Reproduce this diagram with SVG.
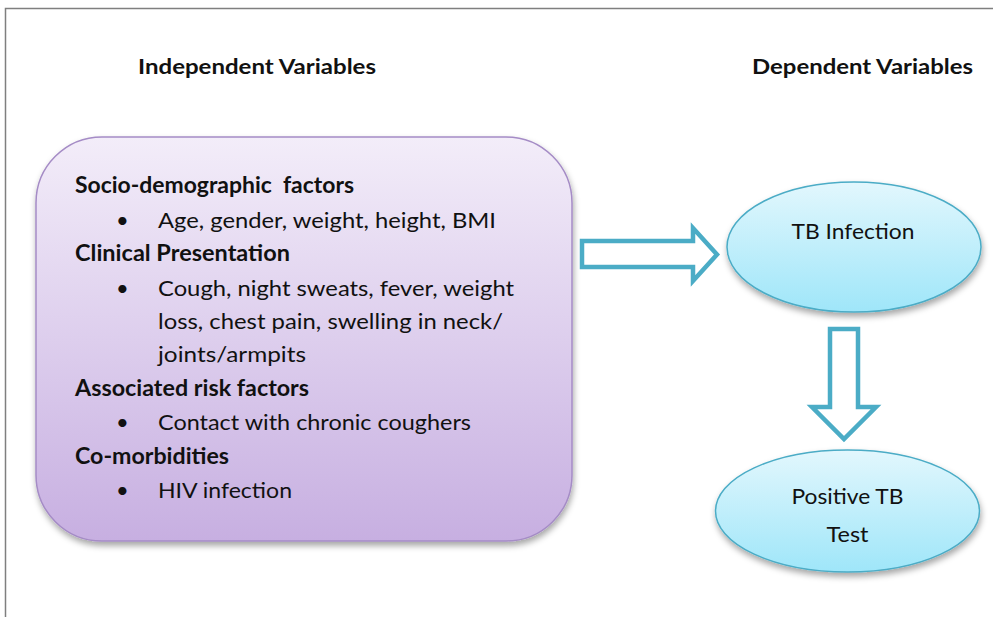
<svg xmlns="http://www.w3.org/2000/svg" width="993" height="617" viewBox="0 0 993 617">
<defs>
<linearGradient id="gBox" x1="0" y1="0" x2="0" y2="1">
<stop offset="0" stop-color="#f3edf9"/>
<stop offset="1" stop-color="#c7afe1"/>
</linearGradient>
<linearGradient id="gEll" x1="0" y1="0" x2="0" y2="1">
<stop offset="0" stop-color="#e2f7fd"/>
<stop offset="1" stop-color="#9fe6f9"/>
</linearGradient>
<filter id="sh" x="-10%" y="-10%" width="125%" height="130%">
<feDropShadow dx="1" dy="4" stdDeviation="3" flood-color="#000" flood-opacity="0.35"/>
</filter>
<style>
text{font-family:Lato,"Open Sans","Liberation Sans",sans-serif;fill:#111;}
.h{font-size:20px;font-weight:bold;}
.b{font-size:22px;font-weight:bold;}
.t{font-size:22px;}
.e{font-size:22px;text-anchor:middle;}
.arr{fill:#fff;stroke:#4bacc6;stroke-width:4.5;stroke-linejoin:miter;}
.ell{fill:url(#gEll);stroke:#4bacc6;stroke-width:1.5;filter:url(#sh);}
</style>
</defs>
<rect width="993" height="617" fill="#fff"/>
<path d="M5.5 617 V8.5 H993" fill="none" stroke="#7f7f7f" stroke-width="1.5"/>
<text class="h" x="138" y="74" textLength="238" lengthAdjust="spacingAndGlyphs">Independent Variables</text>
<text class="h" x="752" y="74" textLength="221" lengthAdjust="spacingAndGlyphs">Dependent Variables</text>
<g id="independent">
<rect x="36" y="137" width="536" height="404" rx="66" ry="66" fill="url(#gBox)" stroke="#a58cc6" stroke-width="1.5" filter="url(#sh)"/>
<text class="b" x="75" y="193" textLength="279" lengthAdjust="spacingAndGlyphs">Socio-demographic&#160; factors</text>
<text class="t" x="116" y="228">•</text>
<text class="t" x="158" y="228" textLength="338" lengthAdjust="spacingAndGlyphs">Age, gender, weight, height, BMI</text>
<text class="b" x="75" y="261" textLength="215" lengthAdjust="spacingAndGlyphs">Clinical Presentation</text>
<text class="t" x="116" y="296">•</text>
<text class="t" x="158" y="296" textLength="356" lengthAdjust="spacingAndGlyphs">Cough, night sweats, fever, weight</text>
<text class="t" x="158" y="329" textLength="345" lengthAdjust="spacingAndGlyphs">loss, chest pain, swelling in neck/</text>
<text class="t" x="158" y="362" textLength="148" lengthAdjust="spacingAndGlyphs">joints/armpits</text>
<text class="b" x="75" y="396" textLength="234" lengthAdjust="spacingAndGlyphs">Associated risk factors</text>
<text class="t" x="116" y="430">•</text>
<text class="t" x="158" y="430" textLength="313" lengthAdjust="spacingAndGlyphs">Contact with chronic coughers</text>
<text class="b" x="75" y="464" textLength="154" lengthAdjust="spacingAndGlyphs">Co-morbidities</text>
<text class="t" x="116" y="498">•</text>
<text class="t" x="158" y="498" textLength="134" lengthAdjust="spacingAndGlyphs">HIV infection</text>
</g>
<g id="connectors">
<path class="arr" d="M582 241 H693 V228 L717 254.5 L693 281 V267 H582 Z"/>
<path class="arr" d="M830 329 H858 V407 H876 L844 439 L812 407 H830 Z"/>
</g>
<g id="tb-infection">
<ellipse class="ell" cx="854" cy="247" rx="127" ry="65"/>
<text class="e" x="853" y="239" textLength="123" lengthAdjust="spacingAndGlyphs">TB Infection</text>
</g>
<g id="positive-test">
<ellipse class="ell" cx="847.5" cy="511" rx="132" ry="61"/>
<text class="e" x="847.5" y="504" textLength="112" lengthAdjust="spacingAndGlyphs">Positive TB</text>
<text class="e" x="847.5" y="542" textLength="42" lengthAdjust="spacingAndGlyphs">Test</text>
</g>
</svg>
